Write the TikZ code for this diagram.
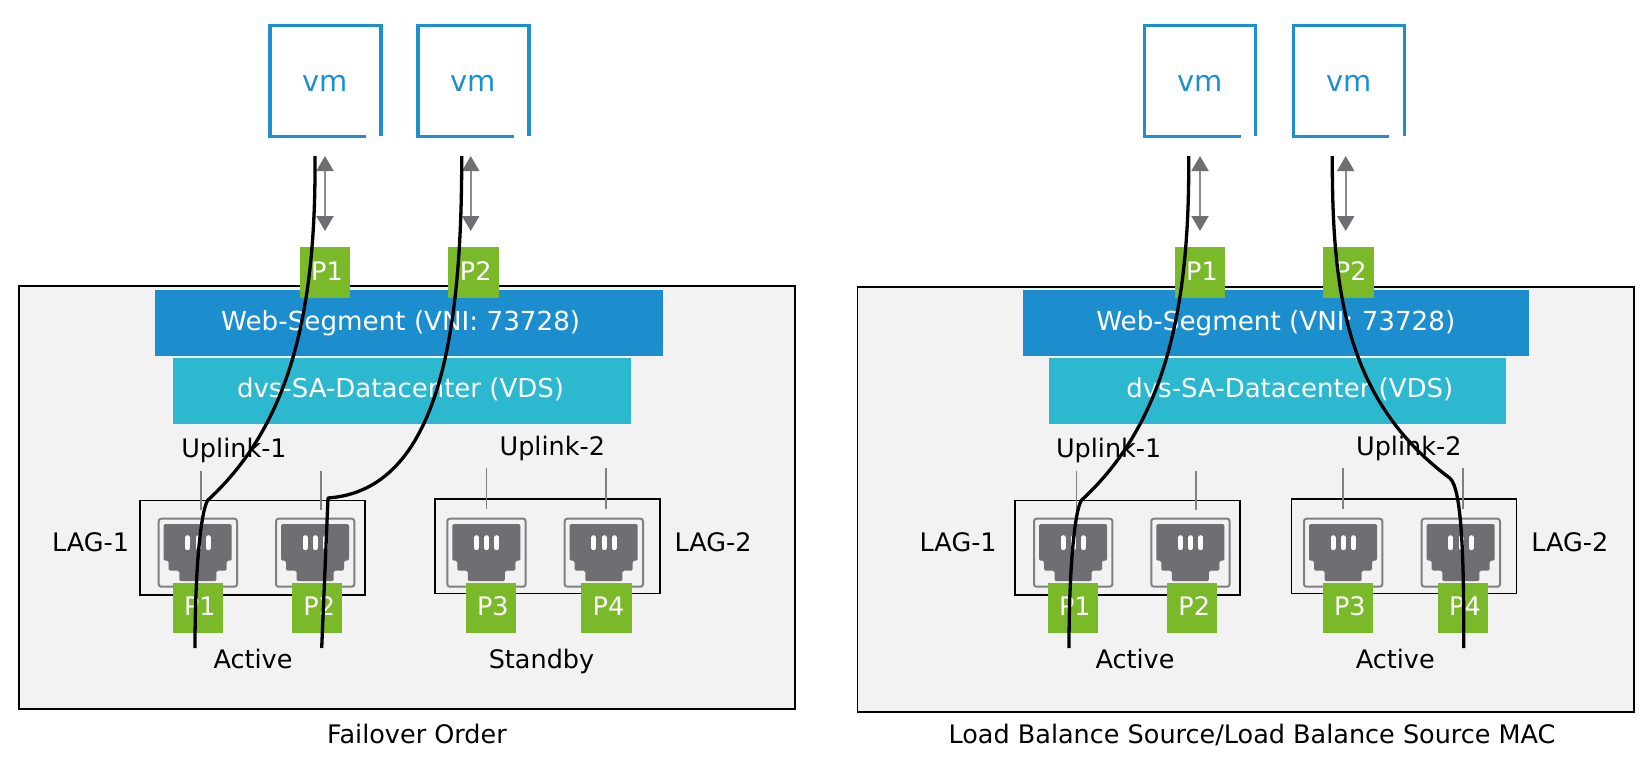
\documentclass[tikz,border=0pt]{standalone}
\usepackage{fontspec}
\setmainfont{DejaVu Sans}
\usepackage{tikz}
\usetikzlibrary{arrows.meta,positioning,calc}

\definecolor{panelgray}{HTML}{F2F2F2}
\definecolor{webblue}{HTML}{1C8ECE}
\definecolor{dvscyan}{HTML}{2CB8CF}
\definecolor{portgreen}{HTML}{7AB929}
\definecolor{portgray}{HTML}{6E6E73}
\definecolor{vmblue}{HTML}{1D8FD0}

\begin{document}
\begin{tikzpicture}[
  x=1pt,y=-1pt,
  font=\fontsize{25.5}{30}\selectfont,
  every node/.style={align=center,inner sep=0pt,outer sep=0pt},
  panel/.style={draw=black,line width=1.6pt,fill=panelgray},
  bar/.style={minimum height=66pt},
  webbar/.style={bar,fill=webblue},
  dvsbar/.style={bar,fill=dvscyan},
  barlabel/.style={anchor=base,text=white,font=\fontsize{26.2}{30}\selectfont},
  dvslabel/.style={anchor=base,text=white,font=\fontsize{26}{30}\selectfont},
  tag/.style={fill=portgreen,text=white,minimum width=50.5pt,minimum height=50.5pt,text depth=3pt,
    execute at begin node={\hspace*{4pt}}},
  vmbox/.style={minimum width=111pt,minimum height=110.6pt,text height=20pt,text=vmblue,font=\fontsize{29}{34}\selectfont},
  vmline/.style={draw=vmblue,line width=3.3pt},
  lagbox/.style={draw=black,line width=1.2pt,minimum width=225pt,minimum height=94.5pt},
  lbl/.style={anchor=base,text=black},
  uplink/.style={draw=gray,line width=1.5pt},
  link/.style={<->,>={Triangle[width=17pt,length=15pt,color=portgray]},draw=gray!90,line width=2pt},
  wire/.style={draw=black,line width=3.3pt,line join=round},
  pics/rjport/.style={code={
    \draw[draw=gray,line width=2pt,rounded corners=2.5pt] (0,0) rectangle (78.3,68);
    \fill[portgray,rounded corners=1.5pt] (5,5.3) -- (73,5.3) -- (73,42) -- (68,42) -- (68,52) -- (57.6,52)
      -- (57.6,62.5) -- (20.6,62.5) -- (20.6,52) -- (10,52) -- (10,42) -- (5,42) -- cycle;
    \draw[white,line width=5pt,line cap=round] (29,19) -- (29,29);
    \draw[white,line width=5pt,line cap=round] (39.3,19) -- (39.3,29);
    \draw[white,line width=5pt,line cap=round] (49.6,19) -- (49.6,29);
  }}]
  \useasboundingbox (0,0) rectangle (1648,758);

  % Left side
  \node[panel,minimum width=776pt,minimum height=423.5pt] (panelA) at (407,497.5) {};
  \node[webbar,minimum width=507.5pt] (webA) at (409,323) {};
  \node[dvsbar,minimum width=457.5pt] (dvsA) at (402.2,390.5) {};
  \node[barlabel] (webtextA) at (400.7,330) {Web-Segment (VNI: 73728)};
  \node[dvslabel] (dvstextA) at (400.5,397.7) {dvs-SA-Datacenter (VDS)};

  \node[vmbox] (vmA) at (325.5,81) {vm};
  \node[vmbox] (vmB) at (473.5,81) {vm};
  \draw[vmline] ([xshift=-15pt]vmA.south east) -- (vmA.south west) -- (vmA.north west) -- (vmA.north east) -- (vmA.south east);
  \draw[vmline] ([xshift=-15pt]vmB.south east) -- (vmB.south west) -- (vmB.north west) -- (vmB.north east) -- (vmB.south east);

  \node[tag] (topA) at (325,272.5) {P1};
  \node[tag] (topB) at (473.7,272.5) {P2};

  \coordinate (arrAup) at (325,156);
  \coordinate (arrAdown) at (325,231);
  \coordinate (arrBup) at (470.7,156);
  \coordinate (arrBdown) at (470.7,231);
  \draw[link] (arrAup) -- (arrAdown);
  \draw[link] (arrBup) -- (arrBdown);

  \node[lbl] (upA) at (234,457.7) {Uplink-1};
  \node[lbl] (upB) at (552.3,455) {Uplink-2};
  \node[lbl] (lagtextA) at (90.5,551.7) {LAG-1};
  \node[lbl] (lagtextB) at (713,551.7) {LAG-2};
  \node[lbl] (activeA) at (253,668.3) {Active};
  \node[lbl] (standbyA) at (541.5,668.3) {Standby};
  \node[lbl] (captionA) at (417,743.3) {Failover Order};

  \node[lagbox] (lagA) at (252.5,547.7) {};
  \node[lagbox] (lagB) at (547.5,546.2) {};

  \pic (portA) at (158.7,518.7) {rjport};
  \pic (portB) at (276,518.7) {rjport};
  \pic (portC) at (447.3,518.7) {rjport};
  \pic (portD) at (564.7,518.7) {rjport};

  \node[tag] (pA) at (197.8,607.8) {P1};
  \node[tag] (pB) at (317.2,607.8) {P2};
  \node[tag] (pC) at (490.8,607.8) {P3};
  \node[tag] (pD) at (606.5,607.8) {P4};

  \coordinate (upAa) at (201,471);
  \coordinate (upAb) at (201,510);
  \coordinate (upBa) at (321,471);
  \coordinate (upBb) at (321,510);
  \coordinate (upCa) at (486.3,468);
  \coordinate (upCb) at (486.3,508.5);
  \coordinate (upDa) at (606,468);
  \coordinate (upDb) at (606,508.5);
  \draw[uplink] (upAa) -- (upAb);
  \draw[uplink] (upBa) -- (upBb);
  \draw[uplink] (upCa) -- (upCb);
  \draw[uplink] (upDa) -- (upDb);

  \coordinate (wireAa) at (315,156);
  \coordinate (wireAb) at (208,500);
  \coordinate (wireAc) at (195,648);
  \coordinate (wireBa) at (461.7,156);
  \coordinate (wireBb) at (328,498);
  \coordinate (wireBc) at (321.7,648);
  \draw[wire] (wireAa) .. controls (316,300) and (295,420) .. (wireAb)
      .. controls (202,507) and (195,560) .. (wireAc);
  \draw[wire] (wireBa) .. controls (462,330) and (440,490) .. (wireBb) -- (wireBc);

  % Right side
  \node[panel,minimum width=776.5pt,minimum height=425pt] (panelB) at (1245.8,499.2) {};
  \node[webbar,minimum width=506.6pt] (webB) at (1276,323) {};
  \node[dvsbar,minimum width=457.6pt] (dvsB) at (1277.5,390.5) {};
  \node[barlabel] (webtextB) at (1275.8,330) {Web-Segment (VNI: 73728)};
  \node[dvslabel] (dvstextB) at (1289.8,397.7) {dvs-SA-Datacenter (VDS)};

  \node[vmbox] (vmC) at (1200.2,81) {vm};
  \node[vmbox] (vmD) at (1348.7,81) {vm};
  \draw[vmline] ([xshift=-15pt]vmC.south east) -- (vmC.south west) -- (vmC.north west) -- (vmC.north east) -- (vmC.south east);
  \draw[vmline] ([xshift=-15pt]vmD.south east) -- (vmD.south west) -- (vmD.north west) -- (vmD.north east) -- (vmD.south east);

  \node[tag] (topC) at (1200,272.5) {P1};
  \node[tag] (topD) at (1348.7,272.5) {P2};

  \coordinate (arrCup) at (1200,156);
  \coordinate (arrCdown) at (1200,231);
  \coordinate (arrDup) at (1345.7,156);
  \coordinate (arrDdown) at (1345.7,231);
  \draw[link] (arrCup) -- (arrCdown);
  \draw[link] (arrDup) -- (arrDdown);

  \node[lbl] (upC) at (1108.7,457.7) {Uplink-1};
  \node[lbl] (upD) at (1408.8,455) {Uplink-2};
  \node[lbl] (lagtextC) at (958.2,551.7) {LAG-1};
  \node[lbl] (lagtextD) at (1569.8,551.7) {LAG-2};
  \node[lbl] (activeB) at (1135,668.3) {Active};
  \node[lbl] (activeC) at (1395.3,668.3) {Active};
  \node[lbl] (captionB) at (1252,743.3) {Load Balance Source/Load Balance Source MAC};

  \node[lagbox] (lagC) at (1127.5,547.7) {};
  \node[lagbox] (lagD) at (1404.3,546.2) {};

  \pic (portE) at (1034,518.7) {rjport};
  \pic (portF) at (1151.3,518.7) {rjport};
  \pic (portG) at (1304,518.7) {rjport};
  \pic (portH) at (1421.7,518.7) {rjport};

  \node[tag] (pE) at (1072.8,607.8) {P1};
  \node[tag] (pF) at (1192.2,607.8) {P2};
  \node[tag] (pG) at (1347.8,607.8) {P3};
  \node[tag] (pH) at (1463,607.8) {P4};

  \coordinate (upEa) at (1076.3,471);
  \coordinate (upEb) at (1076.3,510);
  \coordinate (upFa) at (1196,471);
  \coordinate (upFb) at (1196,510);
  \coordinate (upGa) at (1343,468);
  \coordinate (upGb) at (1343,508.5);
  \coordinate (upHa) at (1463,468);
  \coordinate (upHb) at (1463,508.5);
  \draw[uplink] (upEa) -- (upEb);
  \draw[uplink] (upFa) -- (upFb);
  \draw[uplink] (upGa) -- (upGb);
  \draw[uplink] (upHa) -- (upHb);

  \coordinate (wireCa) at (1188.7,156);
  \coordinate (wireCb) at (1081.7,500);
  \coordinate (wireCc) at (1069,648);
  \coordinate (wireDa) at (1332.3,156);
  \coordinate (wireDb) at (1449.7,478);
  \coordinate (wireDc) at (1463.7,648);
  \draw[wire] (wireCa) .. controls (1189.7,300) and (1168.7,420) .. (wireCb)
      .. controls (1075.7,507) and (1069,560) .. (wireCc);
  \draw[wire] (wireDa) .. controls (1332,290) and (1345,400) .. (wireDb)
      .. controls (1462,488) and (1464,560) .. (wireDc);
\end{tikzpicture}
\end{document}
